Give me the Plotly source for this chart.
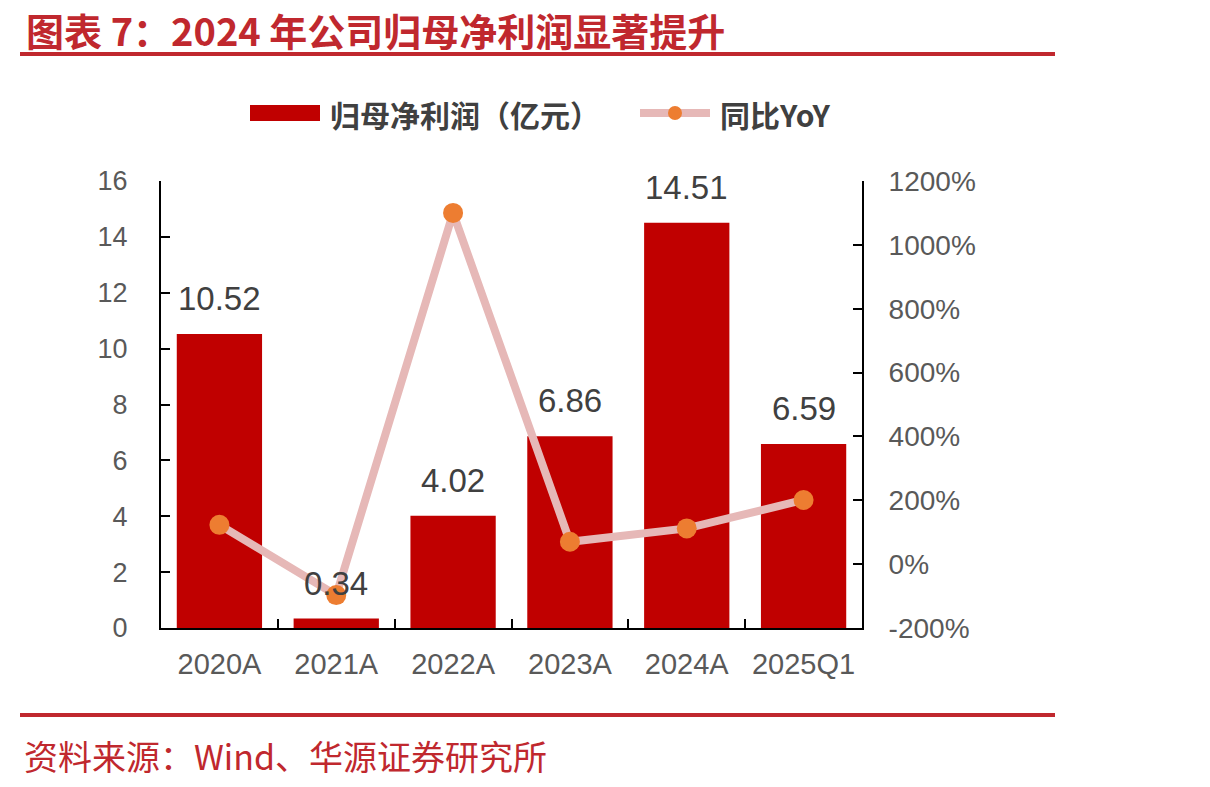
import plotly.graph_objects as go

categories = ["2020A", "2021A", "2022A", "2023A", "2024A", "2025Q1"]
net_profit = [10.52, 0.34, 4.02, 6.86, 14.51, 6.59]
yoy_pct = [123, -97, 1100, 70, 112, 201]
left_ticks = [0, 2, 4, 6, 8, 10, 12, 14, 16]
right_ticks = [-200, 0, 200, 400, 600, 800, 1000, 1200]
right_tick_text = [f"{v}%" for v in right_ticks]

BAR = "#C00000"
LINE = "#E6B8B7"
MARK = "#ED7D31"
RED = "#C0282E"
GRAY = "#595959"
DARK = "#404040"
FONT = "Liberation Sans, Arial, sans-serif"
CJK = "Noto Sans CJK SC"

W, H = 1210, 787
L, R, T, B = 161, 862, 181, 628

fig = go.Figure()
fig.add_trace(go.Bar(x=categories, y=net_profit, marker_color=BAR, marker_line_width=0,
                     name="归母净利润（亿元）", showlegend=False))
fig.add_trace(go.Scatter(x=categories, y=yoy_pct, yaxis="y2", mode="lines+markers",
                         line=dict(color=LINE, width=8),
                         marker=dict(color=MARK, size=20, line_width=0),
                         name="同比YoY", showlegend=False))

for c, v in zip(categories, net_profit):
    fig.add_annotation(x=c, y=v, text=f"{v:.2f}", showarrow=False, yanchor="bottom",
                       yshift=15, font=dict(family=FONT, size=33, color=DARK))

def px(x):
    return (x - L) / (R - L)

def py(y):
    return (B - y) / (B - T)

shapes = []
for yy in (54, 715):
    shapes.append(dict(type="line", xref="paper", yref="paper", x0=px(20), x1=px(1055),
                       y0=py(yy), y1=py(yy), line=dict(color=RED, width=4)))
shapes.append(dict(type="rect", xref="paper", yref="paper", x0=px(250), x1=px(320),
                   y0=py(121), y1=py(105), fillcolor=BAR, line_width=0))
shapes.append(dict(type="line", xref="paper", yref="paper", x0=px(640), x1=px(710),
                   y0=py(113), y1=py(113), line=dict(color=LINE, width=8)))
shapes.append(dict(type="circle", xref="paper", yref="paper", x0=px(668), x1=px(682),
                   y0=py(120), y1=py(106), fillcolor=MARK, line_width=0))

anns = [
    dict(text="<b>图表 7：2024 年公司归母净利润显著提升</b>", x=px(24), y=py(29), xanchor="left",
         yanchor="middle", font=dict(family=CJK, size=38, color=RED)),
    dict(text="资料来源：Wind、华源证券研究所", x=px(22), y=py(755), xanchor="left",
         yanchor="middle", font=dict(family=CJK, size=34, color=RED)),
    dict(text="<b>归母净利润（亿元）</b>", x=px(328), y=py(114), xanchor="left",
         yanchor="middle", font=dict(family=CJK, size=30, color=DARK)),
    dict(text="<b>同比YoY</b>", x=px(718), y=py(114), xanchor="left",
         yanchor="middle", font=dict(family=CJK, size=30, color=DARK)),
]
for a in anns:
    fig.add_annotation(xref="paper", yref="paper", showarrow=False, **a)

fig.update_layout(
    width=W, height=H,
    margin=dict(l=L, r=W - R, t=T, b=H - B, pad=0),
    paper_bgcolor="white", plot_bgcolor="white",
    bargap=0.27,
    shapes=shapes,
    xaxis=dict(type="category", showline=True, linecolor="black", linewidth=2,
               ticks="inside", ticklen=9, tickcolor="black", tickwidth=2,
               tickson="boundaries", showgrid=False,
               tickfont=dict(family=FONT, size=29, color=GRAY), ticklabelstandoff=9),
    yaxis=dict(range=[0, 16], tickvals=left_ticks, showline=True, linecolor="black",
               linewidth=2, ticks="inside", ticklen=9, tickcolor="black", tickwidth=2,
               showgrid=False, zeroline=False,
               tickfont=dict(family=FONT, size=27, color=GRAY), ticklabelstandoff=26),
    yaxis2=dict(range=[-200, 1200], tickvals=right_ticks, ticktext=right_tick_text,
                overlaying="y", side="right", showline=True, linecolor="black", linewidth=2,
                ticks="inside", ticklen=9, tickcolor="black", tickwidth=2,
                showgrid=False, zeroline=False,
                tickfont=dict(family=FONT, size=28, color=GRAY), ticklabelstandoff=19),
)

fig.write_html("out.html")
